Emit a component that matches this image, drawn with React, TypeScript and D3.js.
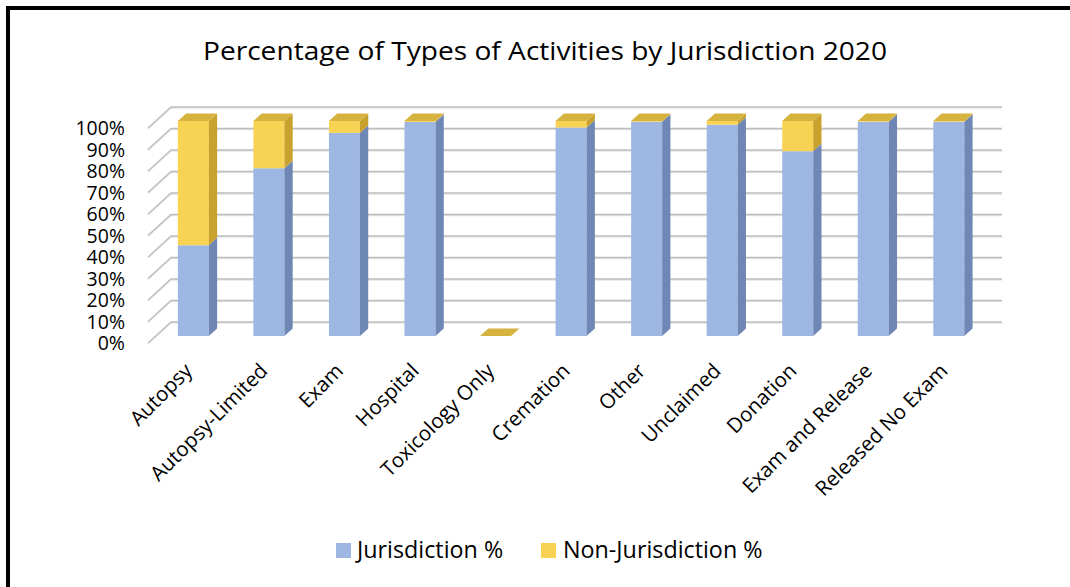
import React from "react";
import * as d3 from "d3";

const categories = [
  "Autopsy",
  "Autopsy-Limited",
  "Exam",
  "Hospital",
  "Toxicology Only",
  "Cremation",
  "Other",
  "Unclaimed",
  "Donation",
  "Exam and Release",
  "Released No Exam",
];
const jurisdiction = [42.3, 78, 94.5, 99.6, 0, 97, 99.7, 98.3, 86, 99.7, 99.7];
const nonJurisdiction = [57.7, 22, 5.5, 0.4, 0, 3, 0.3, 1.7, 14, 0.3, 0.3];
const yTicks = [0, 10, 20, 30, 40, 50, 60, 70, 80, 90, 100];
const seriesNames = ["Jurisdiction %", "Non-Jurisdiction %"];

const W = 1070;
const H = 587;
const FONT = "'Open Sans', 'Noto Sans', sans-serif";

// wall depth
const DX = 23;
const DY = -21;
// bar placement inside depth
const BAR_OFF = 0.33;
const BAR_DEPTH = 0.36;
const BAR_W = 31;

const colors = {
  blue: { front: "#9db6e2", side: "#6f87b4", top: "#8aa3d0" },
  yellow: { front: "#f8d253", side: "#c9a22e", top: "#d6b23e" },
};

export default function App() {
  const x = d3.scaleBand<string>().domain(categories).range([148, 979]).paddingInner(0).paddingOuter(0);
  const y = d3.scaleLinear().domain([0, 100]).range([343, 128]);
  const fmt = d3.format(".0%");

  const offX = DX * BAR_OFF;
  const offY = DY * BAR_OFF;
  const sX = DX * BAR_DEPTH;
  const sY = DY * BAR_DEPTH;

  const pts = (arr: [number, number][]) => arr.map((p) => p.join(",")).join(" ");

  const bars = categories.map((c, i) => {
    const total = jurisdiction[i] + nonJurisdiction[i];
    const cx = (x(c) as number) + x.bandwidth() / 2 + offX;
    const x0 = cx - BAR_W / 2;
    const x1 = cx + BAR_W / 2;
    const segs: { v0: number; v1: number; col: typeof colors.blue }[] = [];
    if (total > 0) {
      const j = (jurisdiction[i] / total) * 100;
      segs.push({ v0: 0, v1: j, col: colors.blue });
      segs.push({ v0: j, v1: 100, col: colors.yellow });
    }
    const els: React.ReactNode[] = [];
    segs.forEach((s, k) => {
      const yb = y(s.v0) + offY;
      const yt = y(s.v1) + offY;
      if (yb - yt <= 0) return;
      els.push(
        <polygon key={`f${k}`} points={pts([[x0, yt], [x1, yt], [x1, yb], [x0, yb]])} fill={s.col.front} />
      );
      els.push(
        <polygon
          key={`s${k}`}
          points={pts([[x1, yt], [x1 + sX, yt + sY], [x1 + sX, yb + sY], [x1, yb]])}
          fill={s.col.side}
        />
      );
    });
    const topV = total > 0 ? 100 : 0;
    const yt = y(topV) + offY;
    els.push(
      <polygon
        key="top"
        points={pts([[x0, yt], [x1, yt], [x1 + sX, yt + sY], [x0 + sX, yt + sY]])}
        fill={colors.yellow.top}
      />
    );
    return <g key={c}>{els}</g>;
  });

  const xL = 148;
  const xR = 979;

  return (
    <div style={{ position: "absolute", left: 0, top: 0 }}>
      <svg width={W} height={H} style={{ display: "block", background: "#fff" }}>
        {/* border */}
        <line x1={8} y1={8} x2={W} y2={8} stroke="#000" strokeWidth={4} />
        <line x1={8} y1={6} x2={8} y2={H} stroke="#000" strokeWidth={4} />

        <text x={545} y={60} textAnchor="middle" fontFamily={FONT} fontSize={26} fill="#000" textLength={684} lengthAdjust="spacingAndGlyphs">
          Percentage of Types of Activities by Jurisdiction 2020
        </text>

        {/* gridlines */}
        {yTicks.map((t) => {
          const yf = y(t);
          return (
            <g key={t}>
              <polyline
                points={pts([[xL, yf + 1], [xL + DX, yf + DY + 1], [xR + DX, yf + DY + 1]])}
                fill="none"
                stroke="#e6e6e6"
                strokeWidth={1.5}
              />
              <polyline
                points={pts([[xL, yf], [xL + DX, yf + DY], [xR + DX, yf + DY]])}
                fill="none"
                stroke="#bdbdbd"
                strokeWidth={1.3}
              />
            </g>
          );
        })}

        {/* y labels */}
        {yTicks.map((t) => (
          <text
            key={t}
            x={125}
            y={y(t)}
            dy="0.36em"
            textAnchor="end"
            fontFamily={FONT}
            fontSize={19.5}
            fill="#000"
          >
            {fmt(t / 100)}
          </text>
        ))}

        {bars}

        {/* x labels */}
        {categories.map((c) => {
          const cx = (x(c) as number) + x.bandwidth() / 2 + offX;
          const lx = cx - 5;
          const ly = 367;
          return (
            <text
              key={c}
              x={lx}
              y={ly}
              textAnchor="end"
              dy="0.35em"
              transform={`rotate(-45 ${lx} ${ly})`}
              fontFamily={FONT}
              fontSize={20.5}
              fill="#000"
            >
              {c}
            </text>
          );
        })}

        {/* legend */}
        <rect x={336} y={543} width={15} height={15} fill={colors.blue.front} />
        <text x={357} y={558} fontFamily={FONT} fontSize={23.3} fill="#000">
          {seriesNames[0]}
        </text>
        <rect x={541} y={543} width={15} height={15} fill={colors.yellow.front} />
        <text x={563} y={558} fontFamily={FONT} fontSize={23.3} fill="#000">
          {seriesNames[1]}
        </text>
      </svg>
    </div>
  );
}
